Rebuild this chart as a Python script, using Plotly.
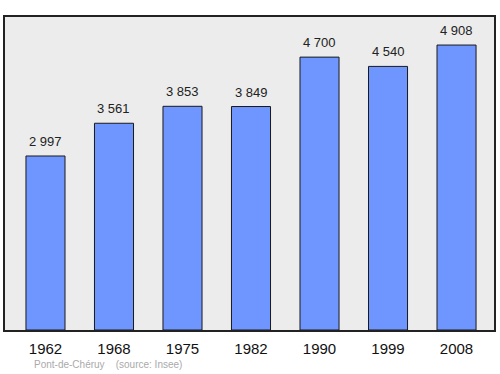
import plotly.graph_objects as go

years = ["1962", "1968", "1975", "1982", "1990", "1999", "2008"]
population = [2997, 3561, 3853, 3849, 4700, 4540, 4908]
labels = ["2 997", "3 561", "3 853", "3 849", "4 700", "4 540", "4 908"]

xpos = list(range(len(years)))

fig = go.Figure()
fig.add_trace(go.Bar(
    x=xpos, y=population, width=0.57,
    marker=dict(color="#6f96ff", line=dict(color="#1a1a1a", width=1)),
    hoverinfo="skip",
))

for xi, v, t in zip(xpos, population, labels):
    fig.add_annotation(x=xi, y=v, text=t, showarrow=False, yanchor="bottom",
                       yshift=5, font=dict(family="Liberation Sans, Arial", size=13, color="#222"))

fig.add_annotation(xref="paper", yref="paper", x=0.055, y=-0.135, xanchor="left",
                   text="Pont-de-Chéruy    (source: Insee)", showarrow=False,
                   font=dict(family="Liberation Sans, Arial", size=10, color="#aaaaaa"))

fig.update_layout(
    width=500, height=374,
    margin=dict(l=5, r=6, t=17, b=44),
    paper_bgcolor="white", plot_bgcolor="#ececec",
    showlegend=False,
    xaxis=dict(range=[-0.591, 6.547], tickmode="array", tickvals=xpos, ticktext=years,
               showgrid=False, zeroline=False, showline=True, linecolor="#222", linewidth=1.5,
               mirror=True, ticks="", ticklabelstandoff=4,
               tickfont=dict(family="Liberation Sans, Arial", size=15, color="#111")),
    yaxis=dict(range=[0, 5391], showticklabels=False, showgrid=False, zeroline=False,
               showline=True, linecolor="#222", linewidth=1.5, mirror=True, ticks=""),
)

fig.write_html("out.html")
